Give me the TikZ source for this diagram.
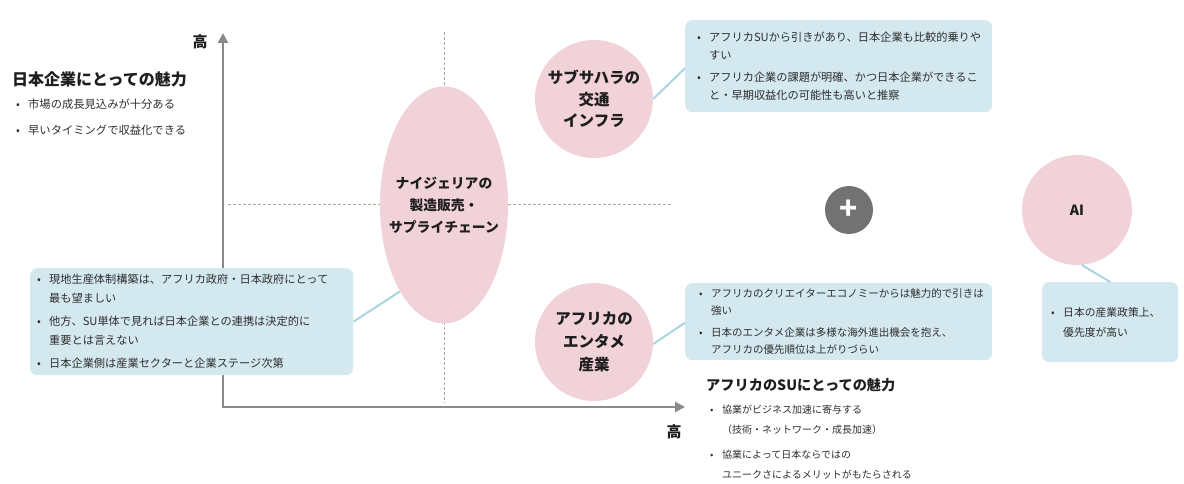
\documentclass[tikz,border=0pt]{standalone}
\usepackage{fontspec}
\setmainfont{Noto Sans CJK JP}
\usetikzlibrary{arrows.meta,shapes.geometric}
\definecolor{pinkc}{HTML}{F2D2D9}
\definecolor{boxc}{HTML}{D4E8F0}
\definecolor{connc}{HTML}{A9D4E1}
\definecolor{axisc}{HTML}{8A8A8A}
\definecolor{dashc}{HTML}{A8A8A8}
\definecolor{plusc}{HTML}{727272}
\definecolor{txtc}{HTML}{2E2E2E}
\definecolor{ttlc}{HTML}{1E1E1E}
\newcommand\bl[1]{\makebox[12pt][l]{•}#1}
\newcommand\cl[1]{\hspace*{12pt}#1}
\begin{document}
\begin{tikzpicture}[x=1pt,y=-1pt,
  axis/.style={draw=axisc, line width=2.6pt, -{Triangle[length=10pt,width=10pt]}},
  guide/.style={draw=dashc, line width=0.9pt, dash pattern=on 3pt off 2pt},
  bubble/.style={circle, fill=pinkc, inner sep=0pt, text=ttlc, align=center, font={\bfseries\fontsize{15.5}{21.5}\selectfont}},
  infobox/.style={rectangle, rounded corners=7pt, fill=boxc, anchor=north west, align=left, text=txtc, inner ysep=0pt},
  conn/.style={draw=connc, line width=2pt},
  title/.style={anchor=west, text=ttlc, font={\bfseries\fontsize{15}{18}\selectfont}, inner sep=0pt},
  plain/.style={anchor=north west, align=left, text=txtc, inner sep=0pt},
  hi/.style={text=ttlc, font={\bfseries\fontsize{15}{18}\selectfont}, inner sep=0pt}]
\useasboundingbox (0,0) rectangle (1184,484);

% guides
\coordinate (vd1) at (444,32);
\coordinate (vd2) at (444,403);
\coordinate (hd1) at (228,204);
\coordinate (hd2) at (673,204);
\draw[guide] (vd1) -- (vd2);
\draw[guide] (hd1) -- (hd2);

% axes
\coordinate (O) at (223,408);
\coordinate (ytop) at (223,33);
\coordinate (xend) at (685,407);
\draw[axis] (O) -- (ytop);
\draw[axis] (223,407) -- (xend);
\node[hi] (yhi) at (200,42) {高};
\node[hi] (xhi) at (674,432) {高};

% top-left text
\node[title, font={\bfseries\fontsize{16}{18}\selectfont}] (t1) at (12,79) {日本企業にとっての魅力};
\node[plain, font={\fontsize{11.3}{26}\selectfont}] (t1b) at (16,99) {\bl{市場の成長見込みが十分ある}\\\bl{早いタイミングで収益化できる}};

% ellipse
\node[ellipse, fill=pinkc, minimum width=128pt, minimum height=237pt, inner sep=0pt] (ell) at (444,205) {};
\node[align=center, text=ttlc, inner sep=0pt, font={\bfseries\fontsize{13.8}{22}\selectfont}] (elltxt) at (ell.center) {ナイジェリアの\\製造販売・\\サプライチェーン};

% circles
\node[bubble, minimum size=118pt] (sub) at (594,99) {サブサハラの\\交通\\インフラ};
\node[bubble, minimum size=118pt, font={\bfseries\fontsize{15.5}{23}\selectfont}] (ent) at (594,342) {アフリカの\\エンタメ\\産業};
\node[bubble, minimum size=110pt, font={\bfseries\fontsize{14}{16}\selectfont}] (ai) at (1077,210) {AI};
\node[circle, fill=plusc, minimum size=48pt, inner sep=0pt, text=white, font={\bfseries\fontsize{30}{30}\selectfont}] (plus) at (849,210) {+};

% boxes
\node[infobox, minimum width=307pt, minimum height=92pt, text width=283pt, inner xsep=12pt, font={\fontsize{11.2}{18}\selectfont}] (trbox) at (685,20)
 {\bl{アフリカSUから引きがあり、日本企業も比較的乗りや}\\\cl{すい}\\[4pt]\bl{アフリカ企業の課題が明確、かつ日本企業ができるこ}\\\cl{と・早期収益化の可能性も高いと推察}};
\node[infobox, minimum width=323pt, minimum height=107pt, text width=309pt, inner xsep=7pt, font={\fontsize{11.2}{19}\selectfont}] (lbbox) at (30,268)
 {\bl{現地生産体制構築は、アフリカ政府・日本政府にとって}\\\cl{最も望ましい}\\[4pt]\bl{他方、SU単体で見れば日本企業との連携は決定的に}\\\cl{重要とは言えない}\\[4pt]\bl{日本企業側は産業セクターと企業ステージ次第}};
\node[infobox, minimum width=307pt, minimum height=77pt, text width=279pt, inner xsep=14pt, font={\fontsize{10.5}{17.5}\selectfont}] (brbox) at (685,283)
 {\bl{アフリカのクリエイターエコノミーからは魅力的で引きは}\\\cl{強い}\\[4pt]\bl{日本のエンタメ企業は多様な海外進出機会を抱え、}\\\cl{アフリカの優先順位は上がりづらい}};
\node[infobox, minimum width=136pt, minimum height=80pt, text width=118pt, inner xsep=9pt, font={\fontsize{10.8}{20}\selectfont}] (aibox) at (1042,282)
 {\bl{日本の産業政策上、}\\\cl{優先度が高い}};

% connectors
\draw[conn] (sub.east) -- ([yshift=-2pt]trbox.west);
\draw[conn] ([yshift=-2pt]ent.east) -- ([yshift=-1pt]brbox.west);
\draw[conn] (lbbox.east) -- (ell.243);
\draw[conn] (ai.-85) -- (aibox.north);

% SU text
\node[title, font={\bfseries\fontsize{14.2}{18}\selectfont}] (t2) at (706,385) {アフリカのSUにとっての魅力};
\node[plain, font={\fontsize{10}{20}\selectfont}] (t2b) at (710,405) {\bl{協業がビジネス加速に寄与する}\\\cl{（技術・ネットワーク・成長加速）}\\[5pt]\bl{協業によって日本ならではの}\\\cl{ユニークさによるメリットがもたらされる}};
\end{tikzpicture}
\end{document}
